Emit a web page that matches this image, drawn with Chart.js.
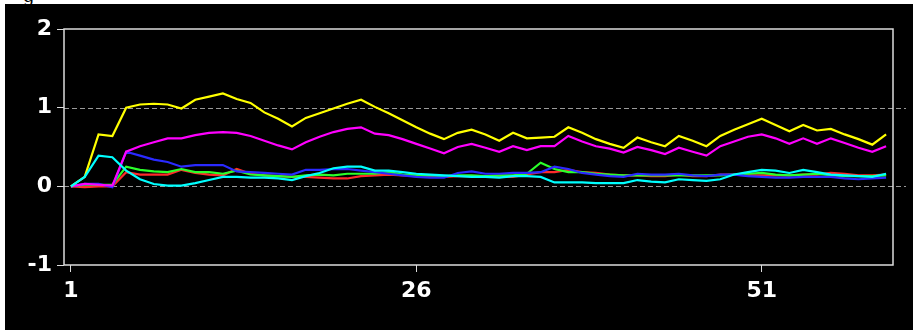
<!DOCTYPE html>
<html>
<head>
<meta charset="utf-8">
<script src="https://cdn.jsdelivr.net/npm/chart.js@4"></script>
<style>
  html, body { margin: 0; padding: 0; background: #fff; overflow: hidden; }
  #cut { position: absolute; left: 23px; top: -15px; font: 18px "DejaVu Serif", serif; color: #000; }
  #panel { position: absolute; left: 5px; top: 4px; width: 908px; height: 326px; background: #000; }
</style>
</head>
<body>
<div id="cut">g</div>
<div id="panel"><canvas id="chart" width="908" height="326"></canvas></div>
<script>
// 刻度
const xTickValues = [1, 26, 51];
const yTickValues = [-1, 0, 1, 2];
const dashedLevels = [0, 1];

// 各条曲线 (第 1..60 点)
const yellowValues = [0, 0.12, 0.66, 0.64, 1.0, 1.04, 1.05, 1.04, 0.99, 1.1,
    1.14, 1.18, 1.11, 1.06, 0.94, 0.86, 0.76, 0.87, 0.93, 0.99,
    1.05, 1.10, 1.01, 0.93, 0.84, 0.75, 0.67, 0.60, 0.68, 0.72,
    0.66, 0.58, 0.68, 0.61, 0.62, 0.63, 0.75, 0.68, 0.60, 0.54,
    0.49, 0.62, 0.56, 0.51, 0.64, 0.58, 0.51, 0.64, 0.72, 0.79,
    0.86, 0.78, 0.70, 0.78, 0.71, 0.73, 0.66, 0.60, 0.53, 0.66];
const magentaValues = [0, 0.03, 0.02, 0.01, 0.44, 0.51, 0.56, 0.61, 0.61, 0.65,
    0.68, 0.69, 0.68, 0.64, 0.58, 0.52, 0.47, 0.56, 0.63, 0.69,
    0.73, 0.75, 0.67, 0.65, 0.60, 0.54, 0.48, 0.42, 0.50, 0.54,
    0.49, 0.44, 0.51, 0.46, 0.51, 0.51, 0.64, 0.57, 0.51, 0.48,
    0.43, 0.50, 0.46, 0.41, 0.49, 0.44, 0.39, 0.51, 0.57, 0.63,
    0.66, 0.61, 0.54, 0.61, 0.54, 0.61, 0.55, 0.49, 0.44, 0.51];
const cyanValues = [0, 0.12, 0.39, 0.37, 0.20, 0.09, 0.03, 0.01, 0.01, 0.04,
    0.08, 0.12, 0.12, 0.11, 0.11, 0.10, 0.08, 0.13, 0.17, 0.23,
    0.25, 0.25, 0.20, 0.20, 0.18, 0.16, 0.15, 0.14, 0.13, 0.12,
    0.12, 0.11, 0.13, 0.13, 0.12, 0.05, 0.05, 0.05, 0.04, 0.04,
    0.04, 0.08, 0.06, 0.05, 0.09, 0.08, 0.07, 0.09, 0.15, 0.18,
    0.21, 0.20, 0.17, 0.21, 0.18, 0.15, 0.14, 0.13, 0.12, 0.16];
const blueValues = [0, 0.03, 0.03, -0.01, 0.44, 0.39, 0.34, 0.31, 0.25, 0.27,
    0.27, 0.27, 0.19, 0.18, 0.17, 0.16, 0.15, 0.21, 0.21, 0.22,
    0.22, 0.20, 0.18, 0.16, 0.14, 0.12, 0.11, 0.11, 0.17, 0.19,
    0.16, 0.16, 0.17, 0.17, 0.18, 0.25, 0.22, 0.17, 0.15, 0.13,
    0.12, 0.16, 0.15, 0.15, 0.16, 0.14, 0.13, 0.15, 0.15, 0.13,
    0.12, 0.11, 0.11, 0.12, 0.12, 0.12, 0.10, 0.09, 0.10, 0.11];
const redValues = [0, -0.01, 0, 0, 0.18, 0.15, 0.15, 0.15, 0.21, 0.17,
    0.15, 0.14, 0.22, 0.16, 0.14, 0.13, 0.12, 0.12, 0.11, 0.10,
    0.10, 0.13, 0.14, 0.15, 0.14, 0.13, 0.13, 0.12, 0.13, 0.13,
    0.12, 0.12, 0.12, 0.15, 0.18, 0.18, 0.21, 0.18, 0.17, 0.15,
    0.14, 0.14, 0.13, 0.13, 0.15, 0.13, 0.13, 0.15, 0.15, 0.14,
    0.14, 0.14, 0.14, 0.15, 0.15, 0.17, 0.16, 0.14, 0.14, 0.15];
const greenValues = [0, 0.02, 0.02, 0.02, 0.25, 0.21, 0.19, 0.18, 0.22, 0.18,
    0.18, 0.16, 0.20, 0.15, 0.14, 0.13, 0.12, 0.14, 0.15, 0.14,
    0.16, 0.16, 0.16, 0.18, 0.15, 0.14, 0.14, 0.13, 0.14, 0.14,
    0.13, 0.14, 0.14, 0.16, 0.30, 0.22, 0.18, 0.18, 0.16, 0.15,
    0.14, 0.14, 0.14, 0.14, 0.14, 0.14, 0.14, 0.14, 0.15, 0.16,
    0.17, 0.15, 0.14, 0.15, 0.16, 0.14, 0.13, 0.13, 0.13, 0.14];

// 第一个数据集画在最上面
const series = [
    { values: cyanValues, color: '#00ffff' },
    { values: yellowValues, color: '#ffff00' },
    { values: magentaValues, color: '#ff00ff' },
    { values: blueValues, color: '#2a2aff' },
    { values: greenValues, color: '#2aff2a' },
    { values: redValues, color: '#ff2a2a' }
];

const axisColor = '#dcdcdc';
const tickFont = { family: '"DejaVu Sans", sans-serif', size: 22, weight: 'bold' };

// 边框和虚线
const framePlugin = {
    id: 'frame',
    beforeDatasetsDraw(chart) {
        const ctx = chart.ctx;
        const area = chart.chartArea;
        const y = chart.scales.y;
        ctx.save();
        ctx.strokeStyle = '#9a9a9a';
        ctx.lineWidth = 1;
        ctx.setLineDash([5, 3]);
        dashedLevels.forEach(v => {
            const py = Math.round(y.getPixelForValue(v)) + 0.5;
            ctx.beginPath();
            ctx.moveTo(area.left, py);
            ctx.lineTo(area.right + 13, py);
            ctx.stroke();
        });
        ctx.restore();
    },
    afterDatasetsDraw(chart) {
        const ctx = chart.ctx;
        const area = chart.chartArea;
        ctx.save();
        ctx.strokeStyle = axisColor;
        ctx.lineWidth = 1.5;
        ctx.strokeRect(area.left, area.top, area.right - area.left, area.bottom - area.top);
        ctx.restore();
    }
};

new Chart(document.getElementById('chart'), {
    type: 'line',
    data: {
        datasets: series.map(s => ({
            data: s.values.map((v, i) => ({ x: i + 1, y: v })),
            borderColor: s.color,
            borderWidth: 2.2,
            pointRadius: 0,
            tension: 0,
            fill: false
        }))
    },
    options: {
        responsive: false,
        devicePixelRatio: 1,
        animation: false,
        layout: { padding: { top: 25, right: 20, left: 0, bottom: 0 } },
        plugins: { legend: { display: false }, tooltip: { enabled: false } },
        scales: {
            x: {
                type: 'linear',
                min: 0.5,
                max: 60.5,
                afterBuildTicks: axis => { axis.ticks = xTickValues.map(v => ({ value: v })); },
                afterFit: axis => { axis.height = 65; },
                border: { display: false },
                grid: { drawOnChartArea: false, drawTicks: true, tickLength: 7, tickColor: axisColor },
                ticks: { color: '#fff', font: tickFont, padding: 6, maxRotation: 0 }
            },
            y: {
                min: -1,
                max: 2,
                afterBuildTicks: axis => { axis.ticks = yTickValues.map(v => ({ value: v })); },
                afterFit: axis => { axis.width = 59; },
                border: { display: false },
                grid: { drawOnChartArea: false, drawTicks: true, tickLength: 7, tickColor: axisColor },
                ticks: { color: '#fff', font: tickFont, padding: 5 }
            }
        }
    },
    plugins: [framePlugin]
});
</script>
</body>
</html>
